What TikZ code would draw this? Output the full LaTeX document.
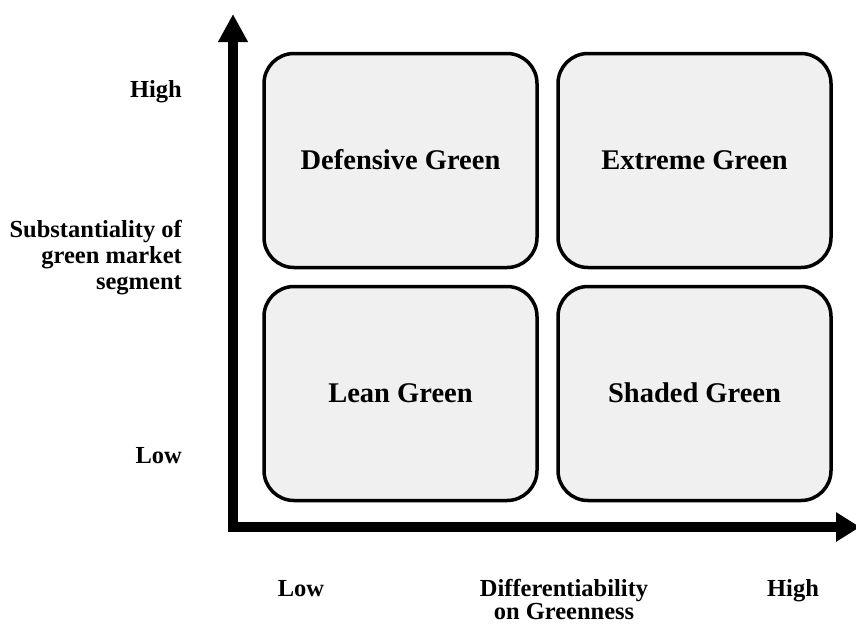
\documentclass[tikz,border=0pt]{standalone}
\usepackage{fontspec}
\setmainfont{Liberation Serif}
\usetikzlibrary{arrows.meta}
\begin{document}
\begin{tikzpicture}[x=1pt,y=-1pt,
  quad/.style={draw=black,line width=3.5pt,rounded corners=30pt,fill=gray!12,
    minimum width=273pt,minimum height=214pt,inner sep=0pt,
    text height=17pt,text depth=0pt,
    font=\fontsize{28.5}{32}\selectfont\bfseries},
  axlab/.style={font=\fontsize{24.5}{26}\selectfont\bfseries,inner sep=0pt,anchor=base},
  axis/.style={line width=9.5pt,line join=miter,
    {Triangle[length=28pt,width=28pt]}-{Triangle[length=24pt,width=28pt]}}]
\useasboundingbox (0,0) rectangle (856,625);
\clip (0,0) rectangle (856,625);
% axes
\coordinate (ytip) at (233,14);
\coordinate (origin) at (233,527);
\coordinate (xtip) at (860,527);
\draw[axis] (ytip) -- (origin) -- (xtip);
% quadrants
\node[quad] (dg) at (400.5,160.5) {Defensive Green};
\node[quad] (eg) at (694.5,160.5) {Extreme Green};
\node[quad] (lg) at (400.5,393.5) {Lean Green};
\node[quad] (sg) at (694.5,393.5) {Shaded Green};
% y axis labels
\node[axlab,anchor=base east] (yhigh) at (182,97) {High};
\node[axlab,anchor=base east] (ylow) at (182,463) {Low};
\node[axlab,anchor=base east,align=right] (ytitle) at (182,289) {Substantiality of\\green market\\segment};
% x axis labels
\node[axlab] (xlow) at (301,596) {Low};
\node[axlab,align=center,font=\fontsize{24.5}{23}\selectfont\bfseries] (xtitle) at (564,619) {Differentiability\\on Greenness};
\node[axlab] (xhigh) at (793,596) {High};
\end{tikzpicture}
\end{document}
